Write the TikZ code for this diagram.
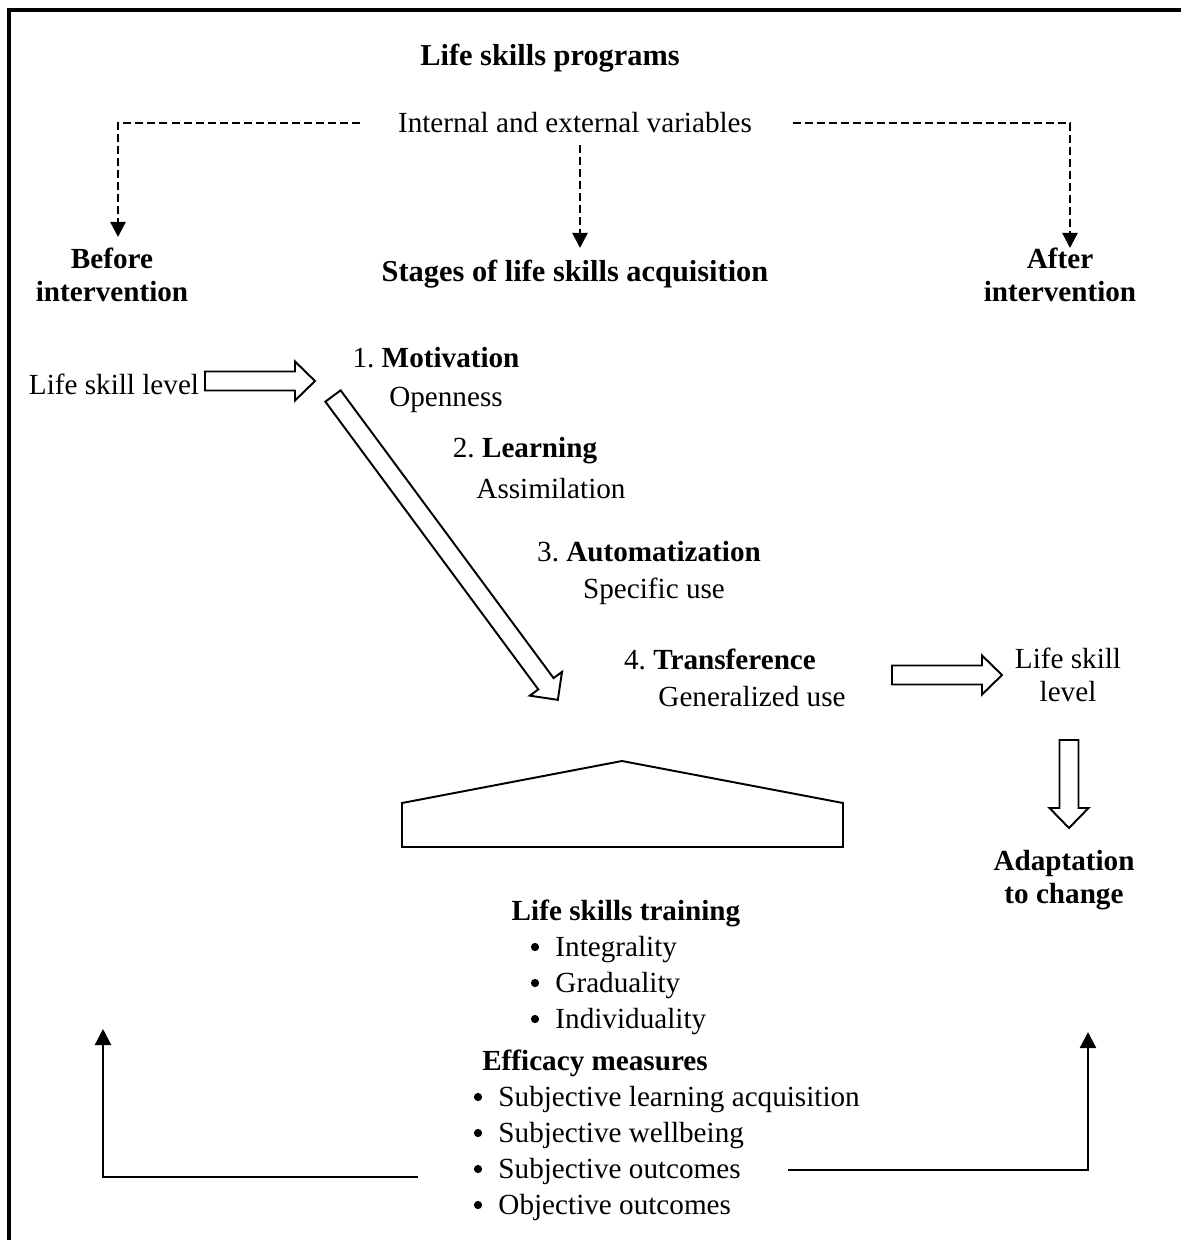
\documentclass[tikz,border=0pt]{standalone}
\usepackage{fontspec}
\setmainfont{Liberation Serif}
\usetikzlibrary{arrows.meta}
\begin{document}
\frenchspacing
\begin{tikzpicture}[x=0.4114pt,y=-0.4114pt,
  txt/.style={inner sep=0pt,font=\fontsize{12}{13.8}\selectfont},
  btxt/.style={txt,font=\fontsize{12}{13.8}\selectfont\bfseries},
  head/.style={txt,font=\fontsize{12.5}{14}\selectfont\bfseries},
  bul/.style={circle,fill=black,inner sep=0pt,minimum size=3.4pt},
  dasharrow/.style={line width=0.95pt,dash pattern=on 3.3pt off 1.65pt,-{Triangle[length=6.2pt,width=6.2pt]}},
  solidarrow/.style={line width=0.95pt,-{Triangle[length=6.6pt,width=6.6pt]}},
  blockstyle/.style={line width=0.8pt,line join=miter,fill=white},
  housestyle/.style={line width=0.8pt,line join=miter}]
\useasboundingbox (0,0) rectangle (1181,1240);
% frame
\draw[line width=1.85pt] (9,1240) -- (9,10) -- (1181,10);
% titles
\node[head] (prog) at (550,58) {Life skills programs};
\node[txt] (iev) at (575,123) {Internal and external variables};
\node[btxt,align=center] (before) at (112,275) {Before\\intervention};
\node[head] (stages) at (575,274) {Stages of life skills acquisition};
\node[btxt,align=center] (after) at (1060,275) {After\\intervention};
% dashed connectors
\coordinate (dl) at (360,123);
\coordinate (dlt) at (118,237);
\coordinate (dm) at (580,145);
\coordinate (dmt) at (580,248);
\coordinate (dr) at (793,123);
\coordinate (drt) at (1070,248);
\draw[dasharrow] (dl) -| (dlt);
\draw[dasharrow] (dm) -- (dmt);
\draw[dasharrow] (dr) -| (drt);
% stages
\node[txt] (lsl1) at (114,384) {Life skill level};
\node[txt] (mot) at (436,358) {1. \textbf{Motivation}};
\node[txt] (open) at (446,400) {Openness};
\node[txt] (learn) at (525,451) {2. \textbf{Learning}};
\node[txt] (assim) at (551,489) {Assimilation};
\node[txt] (auto) at (649,552) {3. \textbf{Automatization}};
\node[txt] (spec) at (654,591) {Specific use};
\node[txt] (trans) at (720,659) {4. \textbf{Transference}};
\node[txt] (gen) at (752,697) {Generalized use};
\node[txt,align=center] (lsl2) at (1068,675) {Life skill\\level};
\node[btxt,align=center] (adapt) at (1064,880) {Adaptation\\to change};
% block arrows
\begin{scope}[shift={(205,381)}]
\draw[blockstyle] (0,-9.5) -- (90,-9.5) -- (90,-19.5) -- (110,0) -- (90,19.5) -- (90,9.5) -- (0,9.5) -- cycle;
\end{scope}
\begin{scope}[shift={(892,675)}]
\draw[blockstyle] (0,-9.5) -- (90,-9.5) -- (90,-19.5) -- (110,0) -- (90,19.5) -- (90,9.5) -- (0,9.5) -- cycle;
\end{scope}
\begin{scope}[shift={(1069,740)},rotate=-90]
\draw[blockstyle] (0,-9.5) -- (68,-9.5) -- (68,-19.5) -- (88,0) -- (68,19.5) -- (68,9.5) -- (0,9.5) -- cycle;
\end{scope}
\begin{scope}[shift={(333,396)},rotate=-53.5]
\draw[blockstyle] (0,-9.5) -- (358,-9.5) -- (358,-20) -- (378,0) -- (358,20) -- (358,9.5) -- (0,9.5) -- cycle;
\end{scope}
% house
\draw[housestyle] (402,847) -- (402,803) -- (622,761) -- (843,803) -- (843,847) -- cycle;
% training
\node[btxt] (lst) at (626,913) {Life skills training};
\node[bul] (b1) at (535,947) {};
\node[txt,anchor=base west] (t1) at (555,956) {Integrality};
\node[bul] (b2) at (535,983) {};
\node[txt,anchor=base west] (t2) at (555,992) {Graduality};
\node[bul] (b3) at (535,1019) {};
\node[txt,anchor=base west] (t3) at (555,1028) {Individuality};
% efficacy
\node[btxt] (eff) at (595,1063) {Efficacy measures};
\node[bul] (e1b) at (478,1097) {};
\node[txt,anchor=base west] (e1) at (498,1106) {Subjective learning acquisition};
\node[bul] (e2b) at (478,1133) {};
\node[txt,anchor=base west] (e2) at (498,1142) {Subjective wellbeing};
\node[bul] (e3b) at (478,1169) {};
\node[txt,anchor=base west] (e3) at (498,1178) {Subjective outcomes};
\node[bul] (e4b) at (478,1205) {};
\node[txt,anchor=base west] (e4) at (498,1214) {Objective outcomes};
% feedback arrows
\coordinate (fl) at (418,1177);
\coordinate (flt) at (103,1029);
\coordinate (fr) at (788,1170);
\coordinate (frt) at (1088,1032);
\draw[solidarrow] (fl) -| (flt);
\draw[solidarrow] (fr) -| (frt);
\end{tikzpicture}
\end{document}
